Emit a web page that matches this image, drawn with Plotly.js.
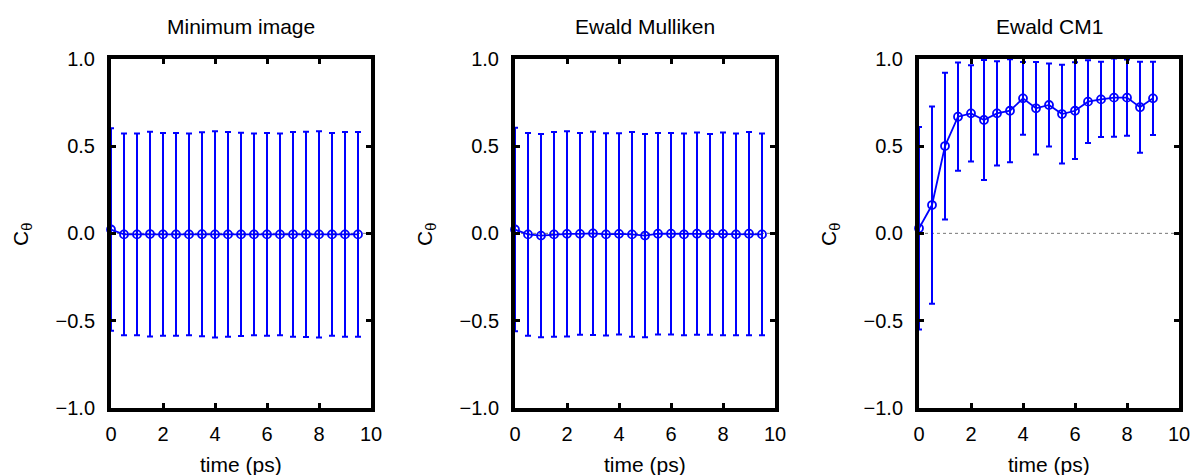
<!DOCTYPE html>
<html>
<head>
<meta charset="utf-8">
<script src="https://cdn.plot.ly/plotly-3.0.1.min.js"></script>
<style>html,body{margin:0;padding:0;background:#fff;}#chart{width:1194px;height:475px;}</style>
</head>
<body>
<div id="chart"></div>
<script>
// ---- data ----
const panelTitles = ["Minimum image", "Ewald Mulliken", "Ewald CM1"];
const xTitle = "time (ps)";
const yTitle = "C<sub>θ</sub>";

const timeA = [0, 0.5, 1.0, 1.5, 2.0, 2.5, 3.0, 3.5, 4.0, 4.5, 5.0, 5.5, 6.0, 6.5, 7.0, 7.5, 8.0, 8.5, 9.0, 9.5];
const minImageC = [0.022, -0.006, -0.006, -0.004, -0.006, -0.006, -0.006, -0.005, -0.006, -0.006, -0.006, -0.006, -0.006, -0.006, -0.006, -0.006, -0.006, -0.006, -0.006, -0.006];
const minImageErr = [0.58, 0.578, 0.578, 0.586, 0.580, 0.580, 0.578, 0.584, 0.590, 0.586, 0.582, 0.578, 0.580, 0.578, 0.586, 0.588, 0.590, 0.580, 0.586, 0.586];

const ewaldMullC = [0.022, -0.006, -0.013, -0.006, -0.003, -0.003, 0.0, -0.006, -0.003, -0.006, -0.013, -0.002, -0.002, -0.006, -0.002, -0.006, -0.003, -0.006, -0.002, -0.006];
const ewaldMullErr = [0.583, 0.581, 0.582, 0.586, 0.587, 0.578, 0.582, 0.579, 0.576, 0.586, 0.582, 0.577, 0.577, 0.577, 0.579, 0.575, 0.581, 0.577, 0.582, 0.577];

const timeB = [0, 0.5, 1.0, 1.5, 2.0, 2.5, 3.0, 3.5, 4.0, 4.5, 5.0, 5.5, 6.0, 6.5, 7.0, 7.5, 8.0, 8.5, 9.0];
const ewaldCM1C = [0.029, 0.162, 0.50, 0.668, 0.687, 0.649, 0.687, 0.702, 0.773, 0.716, 0.735, 0.683, 0.702, 0.754, 0.767, 0.777, 0.777, 0.722, 0.773];
const ewaldCM1Err = [0.58, 0.565, 0.42, 0.31, 0.275, 0.344, 0.298, 0.295, 0.208, 0.265, 0.238, 0.283, 0.277, 0.237, 0.216, 0.224, 0.218, 0.26, 0.21];

const xTicks = [0, 2, 4, 6, 8, 10];
const yTicks = [-1.0, -0.5, 0.0, 0.5, 1.0];

// ---- layout geometry ----
const W = 1194, H = 475;
const FONT = "Liberation Sans, Arial, Helvetica, sans-serif";
const FS = 20;
const TFS = 21;
const BLUE = "#0000ff";
const panelLeft = [111, 515, 919];
const panelWidth = 260;
const yDom = [1 - 408 / H, 1 - 58.7 / H];

const series = [
  {x: timeA, y: minImageC, e: minImageErr},
  {x: timeA, y: ewaldMullC, e: ewaldMullErr},
  {x: timeB, y: ewaldCM1C, e: ewaldCM1Err}
];

const traces = series.map((s, i) => ({
  type: "scatter",
  mode: "lines+markers",
  x: s.x, y: s.y,
  xaxis: i === 0 ? "x" : "x" + (i + 1),
  yaxis: i === 0 ? "y" : "y" + (i + 1),
  line: {color: BLUE, width: 1.8},
  marker: {symbol: "circle-open", size: 8, color: BLUE, line: {color: BLUE, width: 1.8}},
  error_y: {type: "data", array: s.e, visible: true, color: BLUE, thickness: 2, width: 3},
  cliponaxis: false,
  hoverinfo: "x+y"
}));

const layout = {
  width: W, height: H,
  margin: {l: 0, r: 0, t: 0, b: 0},
  paper_bgcolor: "#fff", plot_bgcolor: "#fff",
  showlegend: false,
  font: {family: FONT, size: FS, color: "#000"},
  annotations: [],
  shapes: []
};

for (let i = 0; i < 3; i++) {
  const sx = i === 0 ? "" : String(i + 1);
  const d0 = panelLeft[i] / W, d1 = (panelLeft[i] + panelWidth) / W;
  layout["xaxis" + sx] = {
    domain: [d0, d1], anchor: "y" + sx, range: [0, 10],
    tickvals: xTicks, ticktext: xTicks.map(String),
    ticks: "inside", ticklen: 5, tickwidth: 3, tickcolor: "#000",
    showline: true, linewidth: 4, linecolor: "#000", mirror: "ticks",
    showgrid: false, zeroline: false,
    ticklabelstandoff: 5,
    tickfont: {family: FONT, size: FS, color: "#000"}
  };
  layout["yaxis" + sx] = {
    domain: yDom, anchor: "x" + sx, range: [-1, 1],
    tickvals: yTicks, tickformat: ".1f",
    ticks: "inside", ticklen: 5, tickwidth: 3, tickcolor: "#000",
    showline: true, linewidth: 4, linecolor: "#000", mirror: "ticks",
    showgrid: false, zeroline: false,
    ticklabelstandoff: 8,
    tickfont: {family: FONT, size: FS, color: "#000"}
  };
  layout.shapes.push({
    type: "line", layer: "below",
    xref: "x" + sx + " domain", x0: 0, x1: 1,
    yref: "y" + sx, y0: 0, y1: 0,
    line: {color: "#777", width: 1, dash: "dot"}
  });
  const cx = (panelLeft[i] + panelWidth / 2) / W;
  layout.annotations.push({
    text: panelTitles[i], xref: "paper", yref: "paper",
    x: cx, y: 1 - 26 / H, xanchor: "center", yanchor: "middle",
    showarrow: false, font: {family: FONT, size: TFS, color: "#000"}
  });
  layout.annotations.push({
    text: xTitle, xref: "paper", yref: "paper",
    x: cx, y: 1 - 464 / H, xanchor: "center", yanchor: "middle",
    showarrow: false, font: {family: FONT, size: TFS, color: "#000"}
  });
  layout.annotations.push({
    text: yTitle, xref: "paper", yref: "paper",
    x: (panelLeft[i] - 89) / W, y: 1 - 235 / H, xanchor: "center", yanchor: "middle",
    textangle: -90,
    showarrow: false, font: {family: FONT, size: TFS, color: "#000"}
  });
}

Plotly.newPlot("chart", traces, layout, {displayModeBar: false, staticPlot: true});
</script>
</body>
</html>
